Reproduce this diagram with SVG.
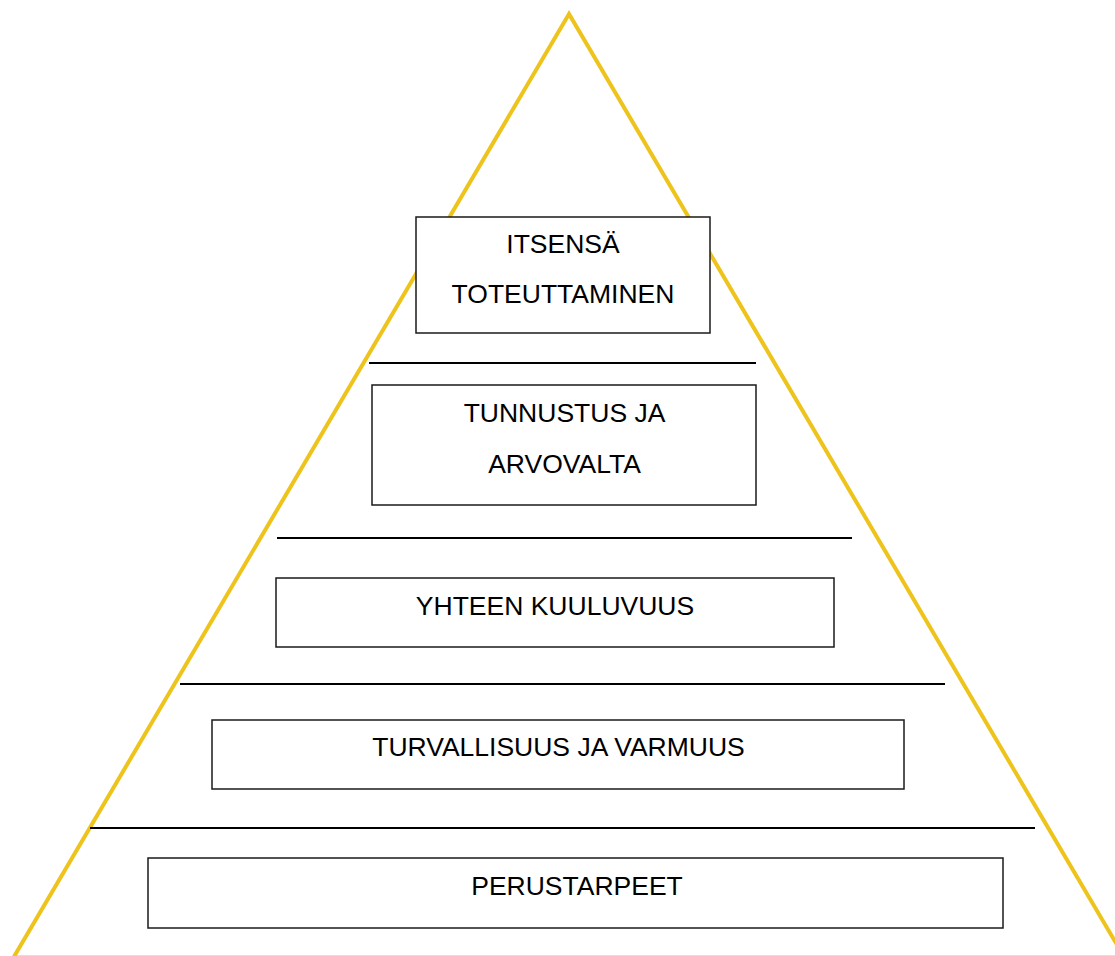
<svg xmlns="http://www.w3.org/2000/svg" width="1115" height="956" viewBox="0 0 1115 956">
<style>
.tri{fill:none;stroke:#EEC31B;stroke-width:4;stroke-linejoin:miter}
.box{fill:#fff;stroke:#1a1a1a;stroke-width:1.5}
.sep{stroke:#000;stroke-width:2}
.t{font-family:"Liberation Sans",Arial,sans-serif;font-size:26.5px;fill:#000;text-anchor:middle}
</style>
<rect width="1115" height="956" fill="#fff"/>
<polygon class="tri" points="569,14 13.5,957.5 1124.5,957.5"/>
<g id="connectors">
<line class="sep" x1="369" y1="363" x2="756" y2="363"/>
<line class="sep" x1="277" y1="538" x2="852" y2="538"/>
<line class="sep" x1="180" y1="684" x2="945" y2="684"/>
<line class="sep" x1="90" y1="828" x2="1035" y2="828"/>
</g>
<g id="n1">
<rect class="box" x="416" y="217" width="294" height="116"/>
<text class="t" x="563" y="253">ITSENSÄ</text>
<text class="t" x="563" y="303">TOTEUTTAMINEN</text>
</g>
<g id="n2">
<rect class="box" x="372" y="385" width="384" height="120"/>
<text class="t" x="564.5" y="422">TUNNUSTUS JA</text>
<text class="t" x="564.5" y="473">ARVOVALTA</text>
</g>
<g id="n3">
<rect class="box" x="276" y="578" width="558" height="69"/>
<text class="t" x="555" y="615">YHTEEN KUULUVUUS</text>
</g>
<g id="n4">
<rect class="box" x="212" y="720" width="692" height="69"/>
<text class="t" x="558.5" y="756">TURVALLISUUS JA VARMUUS</text>
</g>
<g id="n5">
<rect class="box" x="148" y="858" width="855" height="70"/>
<text class="t" x="577" y="895">PERUSTARPEET</text>
</g>
</svg>
